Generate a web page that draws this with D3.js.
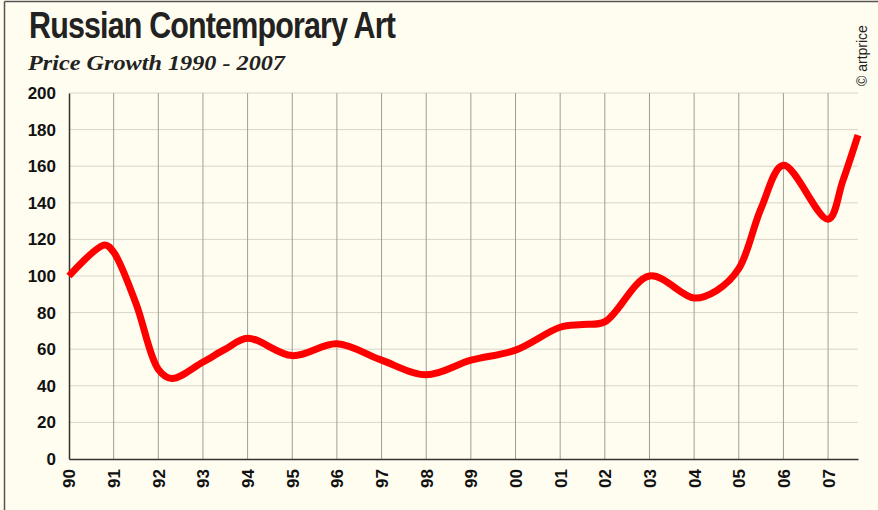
<!DOCTYPE html>
<html>
<head>
<meta charset="utf-8">
<script src="https://cdn.jsdelivr.net/npm/d3@7"></script>
<style>
  body { margin: 0; background: #fffdf0; }
  svg { display: block; }
</style>
</head>
<body>
<div id="wrapper"></div>
<script>
// values (index, 1990 = 100)
const years = [1990, 1990.8, 1991, 1991.5, 1992, 1992.3, 1993, 1993.5, 1994, 1995, 1996, 1997, 1998, 1999, 2000, 2001, 2001.5, 2002, 2003, 2004, 2004.5, 2005, 2005.5, 2006, 2007, 2007.33, 2007.67];
const prices = [100, 117, 113, 85, 49, 44, 53, 60, 66, 56.5, 63, 54, 46, 54, 59.5, 72, 73.5, 75, 100, 88, 92, 104, 137, 160.5, 131, 152, 177];
const xTicks = [1990, 1991, 1992, 1993, 1994, 1995, 1996, 1997, 1998, 1999, 2000, 2001, 2002, 2003, 2004, 2005, 2006, 2007];
const yTicks = [0, 20, 40, 60, 80, 100, 120, 140, 160, 180, 200];

const W = 878, H = 510;
const svg = d3.select("#wrapper").append("svg").attr("width", W).attr("height", H);

svg.append("rect").attr("width", W).attr("height", H).attr("fill", "#fffdf0");
// frame lines (left and top)
svg.append("line").attr("x1", 4.5).attr("x2", 4.5).attr("y1", 1.5).attr("y2", H).attr("stroke", "#555").attr("stroke-width", 1.5);
svg.append("line").attr("x1", 4.5).attr("x2", W).attr("y1", 1.5).attr("y2", 1.5).attr("stroke", "#555").attr("stroke-width", 1.5);

const x = d3.scaleLinear().domain([1990, 2007.67]).range([69, 858]);
const y = d3.scaleLinear().domain([0, 200]).range([459, 93]);

// horizontal gridlines
svg.append("g").selectAll("line").data(yTicks.filter(d => d > 0)).enter().append("line")
  .attr("x1", x(1990)).attr("x2", x(2007.67))
  .attr("y1", d => y(d)).attr("y2", d => y(d))
  .attr("stroke", "#d9d6c8").attr("stroke-width", 1);

// vertical gridlines
svg.append("g").selectAll("line").data(xTicks.filter(d => d > 1990)).enter().append("line")
  .attr("x1", d => x(d)).attr("x2", d => x(d))
  .attr("y1", y(200)).attr("y2", y(0))
  .attr("stroke", "#a19e93").attr("stroke-width", 1);

// axes
const yAxis = d3.axisLeft(y).tickValues(yTicks).tickSize(0).tickPadding(13);
const yg = svg.append("g").attr("transform", "translate(" + x(1990) + ",0)").call(yAxis);
yg.select(".domain").attr("stroke", "#333").attr("stroke-width", 1.5);
yg.selectAll("text").style("font-family", "'Liberation Sans', Arial, sans-serif")
  .style("font-weight", "bold").style("font-size", "17px").attr("fill", "#111");

const xAxis = d3.axisBottom(x).tickValues(xTicks).tickSize(0)
  .tickFormat(d => String(d).slice(2));
const xg = svg.append("g").attr("transform", "translate(0," + y(0) + ")").call(xAxis);
xg.select(".domain").attr("stroke", "#333").attr("stroke-width", 1.5);
xg.selectAll("text").attr("transform", "rotate(-90)").attr("x", -10).attr("y", 0).attr("dy", "0.35em")
  .style("text-anchor", "end").style("font-family", "'Liberation Sans', Arial, sans-serif")
  .style("font-weight", "bold").style("font-size", "17px").attr("fill", "#111");

// the price line
const line = d3.line().x((d, i) => x(years[i])).y(d => y(d)).curve(d3.curveCatmullRom.alpha(0.5));
svg.append("path").datum(prices).attr("d", line)
  .attr("fill", "none").attr("stroke", "#ff0000").attr("stroke-width", 7)
  .attr("stroke-linejoin", "round");

// titles
svg.append("text").attr("x", 29).attr("y", 38).text("Russian Contemporary Art")
  .attr("textLength", 366).attr("lengthAdjust", "spacingAndGlyphs")
  .style("font-family", "'Liberation Sans', Arial, sans-serif")
  .style("font-weight", "bold").style("font-size", "36px").style("letter-spacing", "-1px").attr("fill", "#222");
svg.append("text").attr("x", 28).attr("y", 70).text("Price Growth 1990 - 2007")
  .attr("textLength", 257).attr("lengthAdjust", "spacingAndGlyphs")
  .style("font-family", "'Liberation Serif', 'Times New Roman', serif")
  .style("font-style", "italic").style("font-weight", "bold").style("font-size", "22px").attr("fill", "#222");

svg.append("text").attr("transform", "translate(867,86) rotate(-90)").text("© artprice")
  .style("font-family", "'Liberation Sans', Arial, sans-serif").style("font-size", "14px").attr("fill", "#222");
</script>
</body>
</html>
